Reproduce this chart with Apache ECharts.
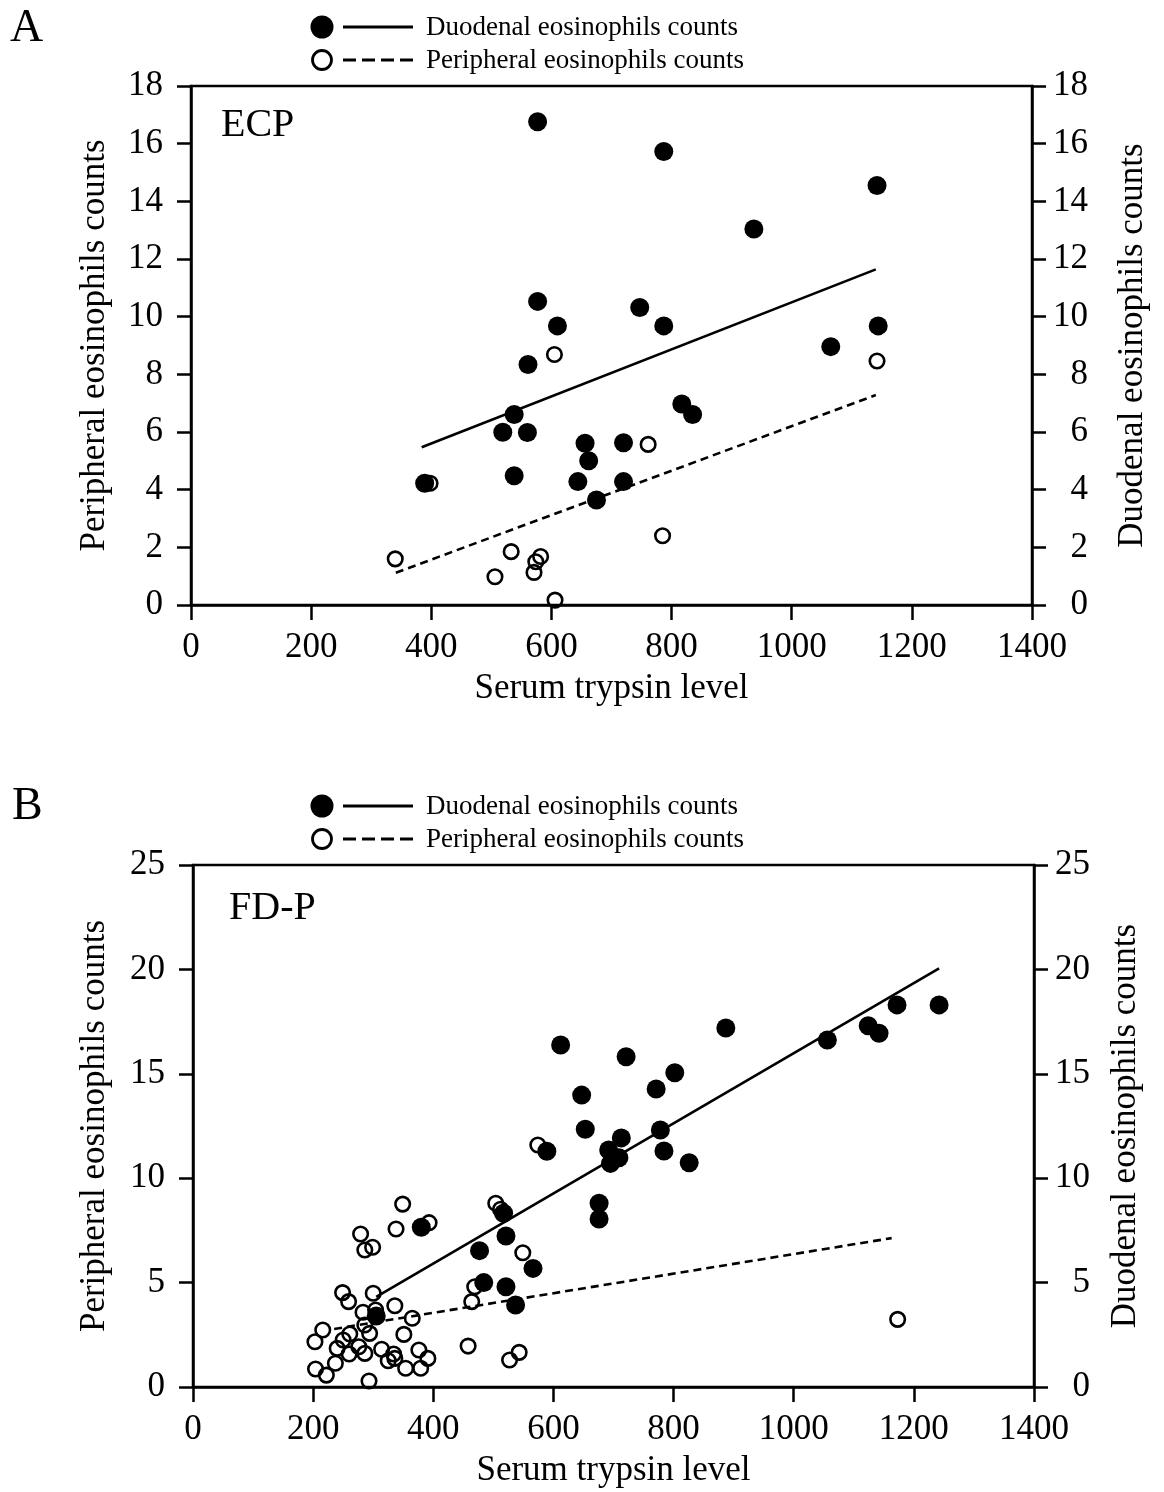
<!DOCTYPE html>
<html>
<head>
<meta charset="utf-8">
<script src="https://cdn.jsdelivr.net/npm/echarts@6/dist/echarts.min.js"></script>
<style>
  html, body { margin: 0; padding: 0; background: #fff; }
  #chart { width: 1164px; height: 1492px; }
</style>
</head>
<body>
<div id="chart"></div>
<script>
// ---------- Panel A (ECP) ----------
const ecpDuodenalX = [577, 787, 1142, 937, 577, 747, 610, 787, 1144, 1065, 561, 817, 835, 538, 519, 560, 656, 720, 662, 538, 644, 720, 389, 675];
const ecpDuodenalY = [16.76, 15.73, 14.55, 13.04, 10.53, 10.32, 9.68, 9.68, 9.68, 8.96, 8.34, 6.97, 6.61, 6.61, 5.99, 5.98, 5.61, 5.63, 5.0, 4.48, 4.28, 4.28, 4.22, 3.64];
const ecpPeripheralX = [605, 1142, 761, 398, 785, 340, 533, 582, 574, 571, 506, 606];
const ecpPeripheralY = [8.69, 8.46, 5.57, 4.22, 2.40, 1.60, 1.85, 1.68, 1.50, 1.13, 0.98, 0.17];
const ecpDuodenalFitX = [384, 1140];
const ecpDuodenalFitY = [5.47, 11.64];
const ecpPeripheralFitX = [341, 1140];
const ecpPeripheralFitY = [1.12, 7.28];

// ---------- Panel B (FD-P) ----------
const fdpDuodenalX = [612, 721, 887, 647, 771, 802, 653, 713, 778, 589, 692, 709, 695, 784, 826, 676, 676, 1056, 1124, 1142, 1172, 1242, 380, 517, 521, 477, 566, 484, 521, 537, 305];
const fdpDuodenalY = [16.38, 15.82, 17.19, 13.98, 14.27, 15.05, 12.34, 11.93, 12.31, 11.29, 11.35, 10.98, 10.71, 11.30, 10.74, 8.80, 8.05, 16.62, 17.30, 16.94, 18.30, 18.30, 7.65, 8.32, 7.23, 6.53, 5.68, 5.00, 4.80, 3.93, 3.40];
const fdpPeripheralX = [349, 338, 393, 279, 286, 299, 504, 512, 549, 469, 464, 458, 543, 527, 249, 259, 300, 336, 283, 304, 365, 286, 294, 216, 203, 261, 250, 240, 260, 276, 286, 314, 351, 334, 325, 336, 376, 391, 379, 354, 237, 204, 222, 293, 574, 1173];
const fdpPeripheralY = [8.76, 7.57, 7.87, 7.33, 6.56, 6.69, 8.80, 8.51, 6.43, 4.80, 4.09, 1.96, 1.66, 1.29, 4.52, 4.09, 4.49, 3.89, 3.58, 3.69, 3.29, 2.97, 2.57, 2.73, 2.17, 2.54, 2.25, 1.85, 1.58, 1.93, 1.61, 1.81, 2.52, 1.58, 1.26, 1.37, 1.77, 1.37, 0.90, 0.90, 1.14, 0.86, 0.57, 0.29, 11.59, 3.24];
const fdpDuodenalFitX = [305, 1242];
const fdpDuodenalFitY = [4.32, 20.05];
const fdpPeripheralFitX = [235, 1163];
const fdpPeripheralFitY = [2.78, 7.13];

// ---------- Axis / text ----------
const xAxisName = 'Serum trypsin level';
const leftAxisName = 'Peripheral eosinophils counts';
const rightAxisName = 'Duodenal eosinophils counts';
const legendDuodenal = 'Duodenal eosinophils counts';
const legendPeripheral = 'Peripheral eosinophils counts';
const panelLabels = ['A', 'B'];
const panelTitles = ['ECP', 'FD-P'];
const xRange = [0, 1400, 200];
const yRangeA = [0, 18, 2];
const yRangeB = [0, 25, 5];

const pairs = (xs, ys) => xs.map((x, i) => [x, ys[i]]);
const FONT = "'Liberation Serif', 'Times New Roman', serif";
const BLACK = '#000';
const plain = v => String(v);

function xAxisDef(gi) {
  return {
    gridIndex: gi, type: 'value', min: xRange[0], max: xRange[1], interval: xRange[2],
    name: xAxisName, nameLocation: 'middle', nameGap: 66,
    nameTextStyle: { fontFamily: FONT, fontSize: 35, color: BLACK },
    axisLine: { onZero: false, lineStyle: { color: BLACK, width: 2.5 } },
    axisTick: { length: 15, lineStyle: { color: BLACK, width: 2.5 } },
    axisLabel: { fontFamily: FONT, fontSize: 35, color: BLACK, margin: 25, formatter: plain },
    splitLine: { show: false }
  };
}
function yAxisDef(gi, range, pos, nameGap) {
  const left = pos === 'left';
  return {
    gridIndex: gi, type: 'value', position: pos, min: range[0], max: range[1], interval: range[2],
    name: left ? leftAxisName : rightAxisName, nameLocation: 'middle', nameGap: nameGap,
    nameTextStyle: { fontFamily: FONT, fontSize: 35, color: BLACK },
    axisLine: { show: true, onZero: false, lineStyle: { color: BLACK, width: 2.5 } },
    axisTick: { show: true, length: 14, lineStyle: { color: BLACK, width: 2.5 } },
    axisLabel: { fontFamily: FONT, fontSize: 35, color: BLACK, margin: left ? 28 : 56, align: 'right', formatter: plain },
    splitLine: { show: false }
  };
}
function filled(xi, yi, data) {
  return { type: 'scatter', xAxisIndex: xi, yAxisIndex: yi, data: data, symbol: 'circle', symbolSize: 19,
    itemStyle: { color: BLACK, opacity: 1 }, z: 4, silent: true };
}
function hollow(xi, yi, data) {
  return { type: 'scatter', xAxisIndex: xi, yAxisIndex: yi, data: data, symbol: 'circle', symbolSize: 14.5,
    itemStyle: { color: 'rgba(255,255,255,0)', borderColor: BLACK, borderWidth: 2.6, opacity: 1 }, z: 3, silent: true };
}
function fitLine(xi, yi, data, dashed) {
  return { type: 'line', xAxisIndex: xi, yAxisIndex: yi, data: data, symbol: 'none', silent: true,
    lineStyle: { color: BLACK, width: 2.6, type: dashed ? [8, 5] : 'solid' }, z: 2 };
}

function legendGroup(top) {
  return [
    { type: 'circle', shape: { cx: 322, cy: top, r: 11.5 }, style: { fill: BLACK } },
    { type: 'line', shape: { x1: 343, y1: top, x2: 413, y2: top }, style: { stroke: BLACK, lineWidth: 3 } },
    { type: 'text', left: 426, top: top - 13, style: { text: legendDuodenal, font: "27px " + FONT, fill: BLACK } },
    { type: 'circle', shape: { cx: 322, cy: top + 33, r: 9.5 }, style: { fill: '#fff', stroke: BLACK, lineWidth: 2.8 } },
    { type: 'line', shape: { x1: 343, y1: top + 33, x2: 413, y2: top + 33 }, style: { stroke: BLACK, lineWidth: 3, lineDash: [13, 6] } },
    { type: 'text', left: 426, top: top + 33 - 13, style: { text: legendPeripheral, font: "27px " + FONT, fill: BLACK } }
  ];
}

const chart = echarts.init(document.getElementById('chart'), null, { renderer: 'canvas' });
chart.setOption({
  backgroundColor: '#fff',
  animation: false,
  grid: [
    { left: 191, top: 86, width: 841, height: 519, containLabel: false, outerBoundsMode: 'none', show: true, borderColor: BLACK, borderWidth: 2.5, backgroundColor: 'transparent' },
    { left: 193, top: 865, width: 841, height: 522, containLabel: false, outerBoundsMode: 'none', show: true, borderColor: BLACK, borderWidth: 2.5, backgroundColor: 'transparent' }
  ],
  xAxis: [xAxisDef(0), xAxisDef(1)],
  yAxis: [
    yAxisDef(0, yRangeA, 'left', 79),
    yAxisDef(0, yRangeA, 'right', 83),
    yAxisDef(1, yRangeB, 'left', 81),
    yAxisDef(1, yRangeB, 'right', 74)
  ],
  series: [
    fitLine(0, 1, pairs(ecpDuodenalFitX, ecpDuodenalFitY), false),
    fitLine(0, 0, pairs(ecpPeripheralFitX, ecpPeripheralFitY), true),
    hollow(0, 0, pairs(ecpPeripheralX, ecpPeripheralY)),
    filled(0, 1, pairs(ecpDuodenalX, ecpDuodenalY)),
    fitLine(1, 3, pairs(fdpDuodenalFitX, fdpDuodenalFitY), false),
    fitLine(1, 2, pairs(fdpPeripheralFitX, fdpPeripheralFitY), true),
    hollow(1, 2, pairs(fdpPeripheralX, fdpPeripheralY)),
    filled(1, 3, pairs(fdpDuodenalX, fdpDuodenalY))
  ],
  graphic: [
    { type: 'text', left: 10, top: 6, style: { text: panelLabels[0], font: "46px " + FONT, fill: BLACK } },
    { type: 'text', left: 12, top: 784, style: { text: panelLabels[1], font: "46px " + FONT, fill: BLACK } },
    { type: 'text', left: 221, top: 105, style: { text: panelTitles[0], font: "40px " + FONT, fill: BLACK } },
    { type: 'text', left: 229, top: 888, style: { text: panelTitles[1], font: "40px " + FONT, fill: BLACK } }
  ].concat(legendGroup(27), legendGroup(806))
});
</script>
</body>
</html>
